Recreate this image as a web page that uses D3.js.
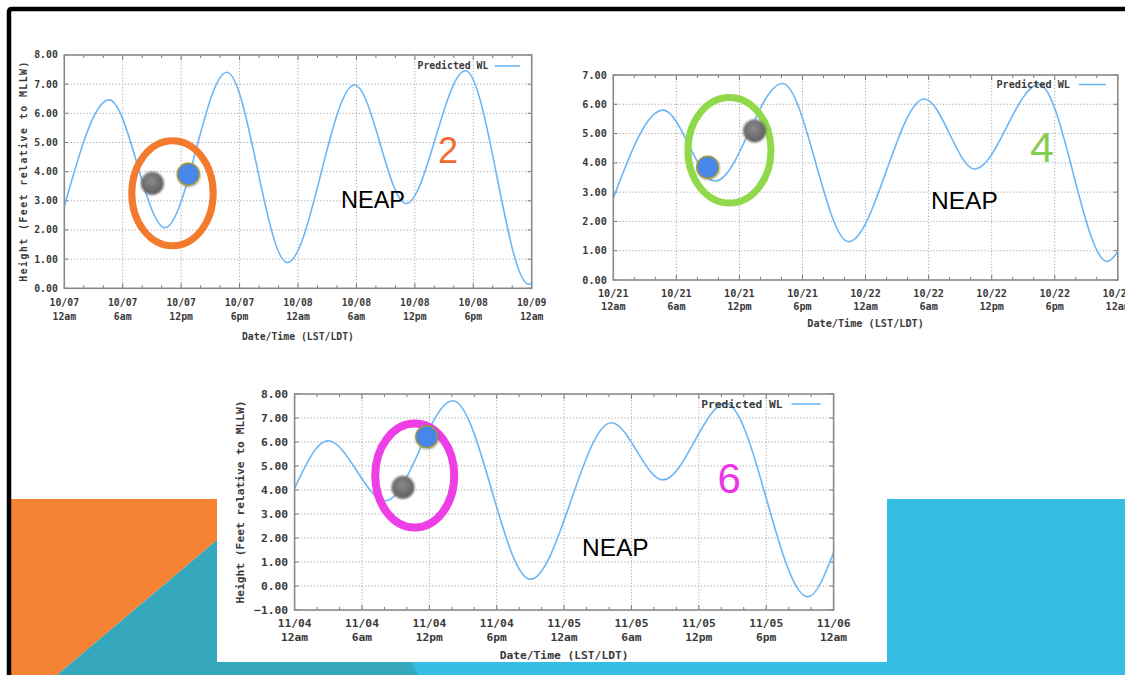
<!DOCTYPE html>
<html><head><meta charset="utf-8">
<script src="https://cdn.jsdelivr.net/npm/d3@7"></script>
<style>body{margin:0;background:#fff;overflow:hidden}svg{display:block}</style>
</head><body>
<svg id="c" width="1125" height="675"></svg>
<script>
// ---------- DATA ----------
const hourTicks = [0, 6, 12, 18, 24, 30, 36, 42, 48];
const timeLabels = ["12am", "6am", "12pm", "6pm", "12am", "6am", "12pm", "6pm", "12am"];
const minorHourTicks = d3.range(0, 49, 2);

const dates1 = ["10/07", "10/07", "10/07", "10/07", "10/08", "10/08", "10/08", "10/08", "10/09"];
const dates2 = ["10/21", "10/21", "10/21", "10/21", "10/22", "10/22", "10/22", "10/22", "10/23"];
const dates3 = ["11/04", "11/04", "11/04", "11/04", "11/05", "11/05", "11/05", "11/05", "11/06"];

const yTicks1 = [0, 1, 2, 3, 4, 5, 6, 7, 8];
const yTicks2 = [0, 1, 2, 3, 4, 5, 6, 7];
const yTicks3 = [-1, 0, 1, 2, 3, 4, 5, 6, 7, 8];

// predicted water level: hour of the 48h window, feet relative to MLLW
const hours1 = [0, 4.6, 10.35, 16.7, 22.9, 29.8, 35.1, 41.2, 47.7, 48];
const feet1  = [2.8, 6.46, 2.08, 7.41, 0.88, 6.97, 2.91, 7.46, 0.14, 0.17];

const hours2 = [0, 4.73, 9.7, 16.1, 22.4, 29.6, 34.4, 40.5, 47.0, 48];
const feet2  = [2.79, 5.80, 3.38, 6.71, 1.31, 6.18, 3.79, 6.68, 0.63, 0.97];

const hours3 = [0, 2.97, 8.1, 14.1, 21.0, 28.2, 32.8, 38.4, 45.7, 48];
const feet3  = [4.07, 6.05, 3.55, 7.72, 0.28, 6.80, 4.42, 7.61, -0.45, 1.39];

// annotation anchors [hour, feet]
const grayDot1 = [9.04, 3.60], blueDot1 = [12.73, 3.91], ring1 = [11.11, 3.26];
const grayDot2 = [13.44, 5.09], blueDot2 = [8.98, 3.85], ring2 = [11.05, 4.43];
const grayDot3 = [9.65, 4.11], blueDot3 = [11.77, 6.22], ring3 = [10.70, 4.60];
const numberPos1 = [39.4, 4.30], neapPos1 = [28.42, 2.75];
const numberPos2 = [40.79, 4.04], neapPos2 = [30.23, 2.41];
const numberPos3 = [38.69, 3.875], neapPos3 = [25.59, 1.25];
const numberLabels = ["2", "4", "6"];
const neapLabel = "NEAP";
const legendLabel = "Predicted WL";
const xTitle = "Date/Time (LST/LDT)";
const yTitle = "Height (Feet relative to MLLW)";

// ---------- DRAW ----------
const svg = d3.select("#c");
const defs = svg.append("defs");
const rg = defs.append("radialGradient").attr("id", "grayball").attr("cx", "0.45").attr("cy", "0.4").attr("r", "0.6");
rg.append("stop").attr("offset", "0%").attr("stop-color", "#8c8c8c");
rg.append("stop").attr("offset", "100%").attr("stop-color", "#5c5c5c");
const f = defs.append("filter").attr("id", "soft").attr("x", "-50%").attr("y", "-50%").attr("width", "200%").attr("height", "200%");
f.append("feGaussianBlur").attr("stdDeviation", 1.2);
const fs = defs.append("filter").attr("id", "shadow").attr("x", "-50%").attr("y", "-50%").attr("width", "200%").attr("height", "200%");
fs.append("feDropShadow").attr("dx", 0.5).attr("dy", 1).attr("stdDeviation", 1.2).attr("flood-color", "#000").attr("flood-opacity", 0.35);

// slide background
svg.append("rect").attr("x", 217).attr("y", 499).attr("width", 908).attr("height", 176).attr("fill", "#34bee2");
svg.append("polygon").attr("points", "11,499 217,499 217,540 57,675 11,675").attr("fill", "#f68234");
svg.append("polygon").attr("points", "217,540 57,675 418,675 380,600 217,600").attr("fill", "#35a8bd");
svg.append("rect").attr("x", 217).attr("y", 380).attr("width", 670).attr("height", 282).attr("fill", "#fff");
// frame
svg.append("path").attr("d", "M9,675 V12 Q9,9 12,9 H1125").attr("fill", "none").attr("stroke", "#000").attr("stroke-width", 4.5);

const charts = [
  {hours: hours1, feet: feet1, dates: dates1, yTicks: yTicks1, dom: [0, 8],
   x0: 64.3, x1: 531.7, y0: 55, y1: 288.3, s: 1.0, lab1: 14.5, lab2: 28.5, titleDy: 48.5,
   yTitleX: 24, yTitleLen: 220, legTextEnd: 43.4, legLine: [37, 11.7], legDy: 11,
   gray: grayDot1, blue: blueDot1, ring: ring1, rx: 40.7, ry: 52.5, rw: 7, ringColor: "#f47a2e",
   num: numberPos1, numColor: "#f26a30", numSize: 36, neap: neapPos1, neapSize: 23.5, label: numberLabels[0]},
  {hours: hours2, feet: feet2, dates: dates2, yTicks: yTicks2, dom: [0, 7],
   x0: 613.3, x1: 1117.8, y0: 75, y1: 280, s: 1.04, lab1: 13.5, lab2: 26.5, titleDy: 43,
   yTitleX: null, yTitleLen: 0, legTextEnd: 47.8, legLine: [39, 11.8], legDy: 9.5,
   gray: grayDot2, blue: blueDot2, ring: ring2, rx: 41.5, ry: 52.8, rw: 7, ringColor: "#8fd94b",
   num: numberPos2, numColor: "#86cd55", numSize: 43, neap: neapPos2, neapSize: 24.5, label: numberLabels[1]},
  {hours: hours3, feet: feet3, dates: dates3, yTicks: yTicks3, dom: [-1, 8],
   x0: 294.6, x1: 833.6, y0: 394, y1: 610, s: 1.15, lab1: 13, lab2: 27, titleDy: 45,
   yTitleX: 240, yTitleLen: 203, legTextEnd: 51, legLine: [42, 13], legDy: 10,
   gray: grayDot3, blue: blueDot3, ring: ring3, rx: 39.5, ry: 52, rw: 8, ringColor: "#ee3fe6",
   num: numberPos3, numColor: "#ee33e6", numSize: 42, neap: neapPos3, neapSize: 24.5, label: numberLabels[2]}
];

const mono = "'DejaVu Sans Mono', 'Liberation Mono', monospace";

charts.forEach((c, i) => {
  const x = d3.scaleLinear().domain([0, 48]).range([c.x0, c.x1]);
  const y = d3.scaleLinear().domain(c.dom).range([c.y1, c.y0]);
  const g = svg.append("g");
  const tfs = 9.8 * c.s;

  // grid
  g.selectAll(".gx").data(hourTicks.slice(1, -1)).join("line")
    .attr("x1", d => x(d)).attr("x2", d => x(d)).attr("y1", c.y0).attr("y2", c.y1)
    .attr("stroke", "#a8a8a8").attr("stroke-width", 1).attr("stroke-dasharray", "1.2,2");
  g.selectAll(".gy").data(c.yTicks.slice(1, -1)).join("line")
    .attr("x1", c.x0).attr("x2", c.x1).attr("y1", d => y(d)).attr("y2", d => y(d))
    .attr("stroke", "#a8a8a8").attr("stroke-width", 1).attr("stroke-dasharray", "1.2,2");

  // ticks
  minorHourTicks.forEach(h => {
    const len = (h % 6 === 0) ? 5 : 3;
    g.append("line").attr("x1", x(h)).attr("x2", x(h)).attr("y1", c.y1).attr("y2", c.y1 - len).attr("stroke", "#777");
    g.append("line").attr("x1", x(h)).attr("x2", x(h)).attr("y1", c.y0).attr("y2", c.y0 + len).attr("stroke", "#777");
  });
  c.yTicks.forEach(v => {
    g.append("line").attr("x1", c.x0).attr("x2", c.x0 + 4).attr("y1", y(v)).attr("y2", y(v)).attr("stroke", "#777");
    g.append("line").attr("x1", c.x1).attr("x2", c.x1 - 4).attr("y1", y(v)).attr("y2", y(v)).attr("stroke", "#777");
  });

  // tide line
  const clipId = "clip" + i;
  defs.append("clipPath").attr("id", clipId).append("rect")
    .attr("x", c.x0).attr("y", c.y0 - 2).attr("width", c.x1 - c.x0).attr("height", c.y1 - c.y0 + 2);
  const line = d3.line().x(d => x(d[0])).y(d => y(d[1])).curve(d3.curveMonotoneX);
  g.append("path").datum(c.hours.map((h, k) => [h, c.feet[k]]))
    .attr("d", line).attr("fill", "none").attr("stroke", "#6cb6f4").attr("stroke-width", 1.6)
    .attr("clip-path", `url(#${clipId})`);

  // frame
  g.append("rect").attr("x", c.x0).attr("y", c.y0).attr("width", c.x1 - c.x0).attr("height", c.y1 - c.y0)
    .attr("fill", "none").attr("stroke", "#8a8a8a").attr("stroke-width", 1.6);

  // y tick labels
  g.selectAll(".yl").data(c.yTicks).join("text")
    .attr("x", c.x0 - 6.5).attr("y", d => y(d)).attr("dy", "0.35em")
    .attr("text-anchor", "end").attr("font-family", mono).attr("font-weight", "bold")
    .attr("font-size", tfs).attr("fill", "#3a3a3a").text(d => d3.format(".2f")(d));

  // x tick labels
  hourTicks.forEach((h, k) => {
    g.append("text").attr("x", x(h)).attr("y", c.y1 + c.lab1).attr("dy", "0.35em").attr("text-anchor", "middle")
      .attr("font-family", mono).attr("font-weight", "bold").attr("font-size", tfs).attr("fill", "#3a3a3a").text(c.dates[k]);
    g.append("text").attr("x", x(h)).attr("y", c.y1 + c.lab2).attr("dy", "0.35em").attr("text-anchor", "middle")
      .attr("font-family", mono).attr("font-weight", "bold").attr("font-size", tfs).attr("fill", "#3a3a3a").text(timeLabels[k]);
  });

  // axis titles
  g.append("text").attr("x", (c.x0 + c.x1) / 2).attr("y", c.y1 + c.titleDy).attr("dy", "0.35em")
    .attr("text-anchor", "middle").attr("font-family", mono).attr("font-weight", "bold")
    .attr("font-size", tfs).attr("fill", "#3a3a3a").text(xTitle);
  if (c.yTitleX !== null) {
    g.append("text").attr("transform", `translate(${c.yTitleX},${(c.y0 + c.y1) / 2}) rotate(-90)`)
      .attr("dy", "0.35em").attr("text-anchor", "middle").attr("font-family", mono).attr("font-weight", "bold")
      .attr("font-size", tfs).attr("fill", "#3a3a3a")
      .attr("textLength", c.yTitleLen).attr("lengthAdjust", "spacing").text(yTitle);
  }

  // legend
  g.append("text").attr("x", c.x1 - c.legTextEnd).attr("y", c.y0 + c.legDy).attr("dy", "0.35em")
    .attr("text-anchor", "end").attr("font-family", mono).attr("font-weight", "bold")
    .attr("font-size", tfs).attr("fill", "#3a3a3a").text(legendLabel);
  g.append("line").attr("x1", c.x1 - c.legLine[0]).attr("x2", c.x1 - c.legLine[1])
    .attr("y1", c.y0 + c.legDy).attr("y2", c.y0 + c.legDy).attr("stroke", "#6cb6f4").attr("stroke-width", 1.6);

  // annotations
  g.append("ellipse").attr("cx", x(c.ring[0])).attr("cy", y(c.ring[1])).attr("rx", c.rx).attr("ry", c.ry)
    .attr("fill", "none").attr("stroke", c.ringColor).attr("stroke-width", c.rw);
  g.append("circle").attr("cx", x(c.gray[0])).attr("cy", y(c.gray[1])).attr("r", 11.5)
    .attr("fill", "url(#grayball)").attr("filter", "url(#soft)");
  g.append("circle").attr("cx", x(c.blue[0])).attr("cy", y(c.blue[1])).attr("r", 11)
    .attr("fill", "#4a86ea").attr("stroke", "#a39a35").attr("stroke-width", 1.3).attr("filter", "url(#shadow)");

  g.append("text").attr("x", x(c.num[0])).attr("y", y(c.num[1])).attr("text-anchor", "middle")
    .attr("font-family", "'Liberation Sans', Arial, sans-serif").attr("font-size", c.numSize)
    .attr("fill", c.numColor).text(c.label);
  g.append("text").attr("x", x(c.neap[0])).attr("y", y(c.neap[1]))
    .attr("font-family", "'Liberation Sans', Arial, sans-serif").attr("font-size", c.neapSize)
    .attr("fill", "#000").text(neapLabel);
});
</script>
</body></html>
